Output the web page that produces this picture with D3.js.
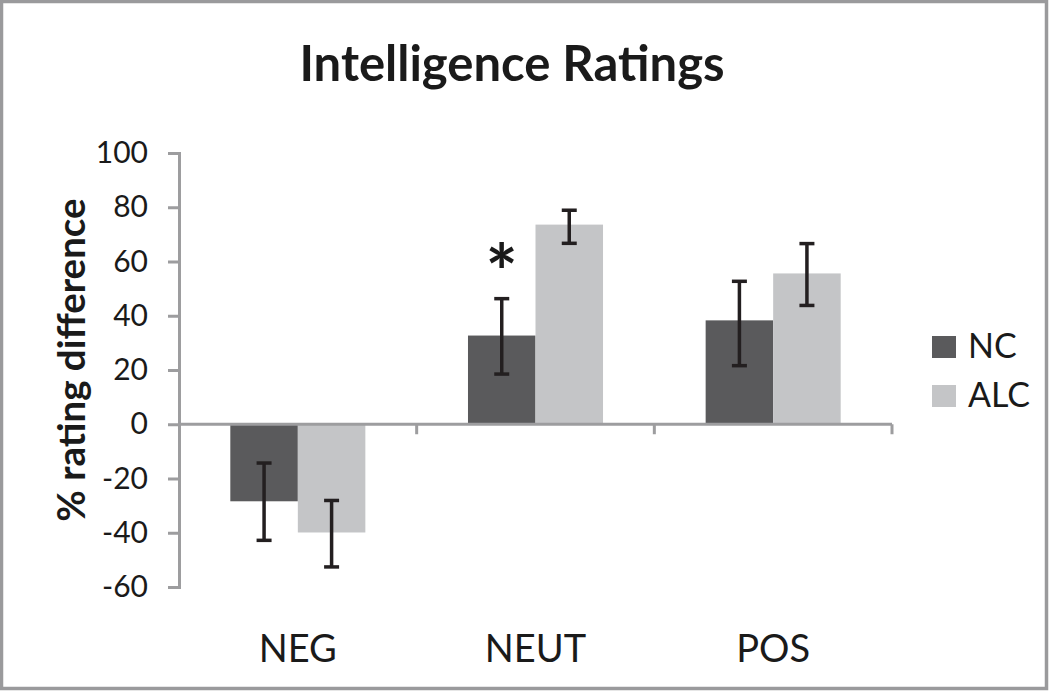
<!DOCTYPE html>
<html>
<head>
<meta charset="utf-8">
<script src="https://cdn.jsdelivr.net/npm/d3@7"></script>
<style>
  html, body { margin: 0; padding: 0; background: #fff; }
  svg { display: block; }
  text { font-family: Lato, "Open Sans", sans-serif; fill: #1a1a1a; }
</style>
</head>
<body>
<svg id="chart" width="1050" height="691"></svg>
<script>
// ---- data ----
const categories = ["NEG", "NEUT", "POS"];
const series = ["NC", "ALC"];
const ncValues = [-28.4, 32.7, 38.3];
const alcValues = [-39.9, 73.6, 55.6];
const ncErrLow = [-42.8, 18.5, 21.6];
const ncErrHigh = [-14.3, 46.3, 52.7];
const alcErrLow = [-52.6, 66.7, 43.8];
const alcErrHigh = [-28.1, 78.9, 66.6];
const significance = ["", "*", ""]; // marker above NC bar
const yTicks = [-60, -40, -20, 0, 20, 40, 60, 80, 100];
const title = "Intelligence Ratings";
const yLabel = "% rating difference";
const colors = { NC: "#5a5a5c", ALC: "#c4c5c7" };

const valuesBy = { NC: ncValues, ALC: alcValues };
const errLowBy = { NC: ncErrLow, ALC: alcErrLow };
const errHighBy = { NC: ncErrHigh, ALC: alcErrHigh };

const rows = [];
categories.forEach((c, i) => {
  series.forEach(s => {
    rows.push({ cat: c, ser: s, v: valuesBy[s][i], lo: errLowBy[s][i], hi: errHighBy[s][i], sig: s === "NC" ? significance[i] : "" });
  });
});

const svg = d3.select("#chart");
const W = 1050, H = 691;
const axisColor = "#9d9d9f";

// border
svg.append("rect").attr("x", 1.5).attr("y", 1.5).attr("width", W - 5).attr("height", H - 4)
  .attr("fill", "#fff").attr("stroke", "#9a9a9c").attr("stroke-width", 3.5);

const y = d3.scaleLinear().domain([-60, 100]).range([587, 153]);
const x0 = d3.scaleBand().domain(categories).range([179, 892]).padding(0);
const x1 = d3.scaleBand().domain(series).range([0, x0.bandwidth()]).paddingInner(0).paddingOuter(0.76);

// title
svg.append("text").attr("x", 512).attr("y", 81).attr("text-anchor", "middle")
  .style("font-weight", "bold").style("font-size", "49px").text(title);

// y axis
const yAxis = svg.append("g").attr("transform", "translate(179,0)")
  .call(d3.axisLeft(y).tickValues(yTicks).tickSize(11).tickPadding(20).tickFormat(d => String(d)));
yAxis.select(".domain").attr("stroke", axisColor).attr("stroke-width", 3);
yAxis.selectAll(".tick line").attr("stroke", axisColor).attr("stroke-width", 3);
yAxis.selectAll(".tick text").style("font-size", "30px").attr("fill", "#1a1a1a")
  .style("font-family", "Lato, sans-serif");

// y label
svg.append("text").attr("transform", "translate(85,360) rotate(-90)").attr("text-anchor", "middle")
  .style("font-weight", "bold").style("font-size", "38.5px").text(yLabel);

// bars
svg.append("g").selectAll("rect").data(rows).join("rect")
  .attr("x", d => x0(d.cat) + x1(d.ser))
  .attr("y", d => y(Math.max(0, d.v)))
  .attr("width", x1.bandwidth())
  .attr("height", d => Math.abs(y(d.v) - y(0)))
  .attr("fill", d => colors[d.ser]);

// x axis at zero
const xAxis = svg.append("g").attr("transform", `translate(0,${y(0)})`);
xAxis.append("line").attr("x1", 179).attr("x2", 892).attr("y1", 0).attr("y2", 0)
  .attr("stroke", axisColor).attr("stroke-width", 3);
const boundaries = categories.map(c => x0(c) + x0.bandwidth());
xAxis.selectAll("line.tk").data(boundaries).join("line").attr("class", "tk")
  .attr("x1", d => d).attr("x2", d => d).attr("y1", 0).attr("y2", 10)
  .attr("stroke", axisColor).attr("stroke-width", 3);

// category labels
svg.append("g").selectAll("text").data(categories).join("text")
  .attr("x", d => x0(d) + x0.bandwidth() / 2).attr("y", 662).attr("text-anchor", "middle")
  .style("font-size", "38px").text(d => d);

// error bars
const eb = svg.append("g").attr("stroke", "#231f20").attr("stroke-width", 3.5);
const cx = d => x0(d.cat) + x1(d.ser) + x1.bandwidth() / 2;
eb.selectAll("line.v").data(rows).join("line").attr("class", "v")
  .attr("x1", cx).attr("x2", cx).attr("y1", d => y(d.hi)).attr("y2", d => y(d.lo));
eb.selectAll("line.t").data(rows).join("line").attr("class", "t")
  .attr("x1", d => cx(d) - 7.5).attr("x2", d => cx(d) + 7.5).attr("y1", d => y(d.hi)).attr("y2", d => y(d.hi));
eb.selectAll("line.b").data(rows).join("line").attr("class", "b")
  .attr("x1", d => cx(d) - 7.5).attr("x2", d => cx(d) + 7.5).attr("y1", d => y(d.lo)).attr("y2", d => y(d.lo));

// significance marker
svg.append("g").selectAll("text").data(rows.filter(d => d.sig)).join("text")
  .attr("x", cx).attr("y", d => y(d.hi) + 1).attr("text-anchor", "middle")
  .style("font-size", "76px").style("font-weight", "bold").text(d => d.sig);

// legend
const lg = svg.append("g").selectAll("g").data(series).join("g")
  .attr("transform", (d, i) => `translate(932,${336 + i * 49})`);
lg.append("rect").attr("width", 24).attr("height", 22).attr("fill", d => colors[d]);
lg.append("text").attr("x", 36).attr("y", 22).style("font-size", "34px").text(d => d);
</script>
</body>
</html>
